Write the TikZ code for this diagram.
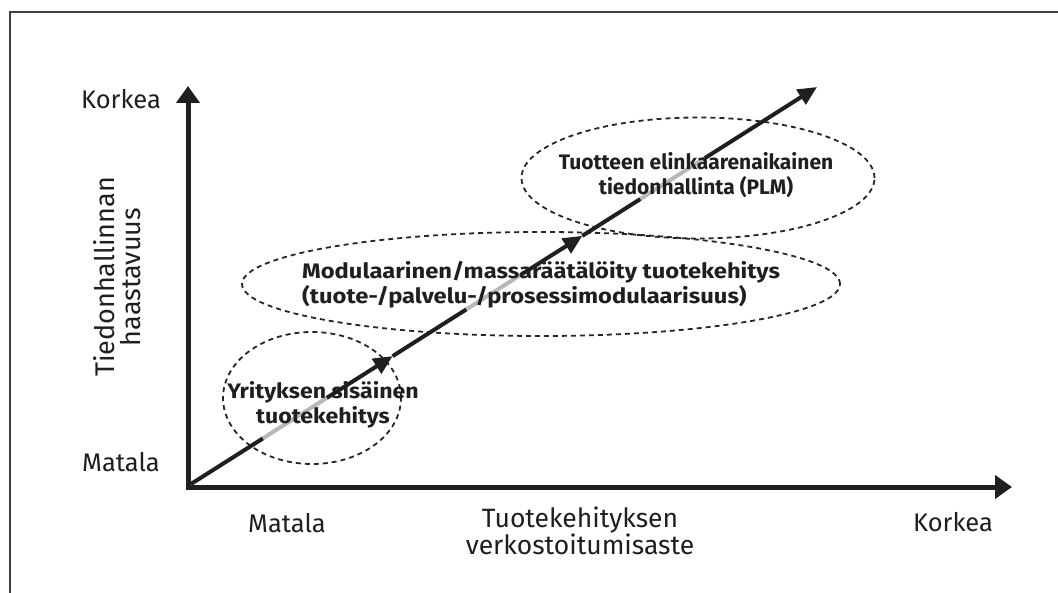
\documentclass[tikz,border=0pt]{standalone}
\usepackage{fontspec}
\setmainfont{Fira Sans}
\usetikzlibrary{arrows.meta,shapes.geometric,calc}

\begin{document}
\begin{tikzpicture}[x=1pt,y=-1pt,
  ink/.style={black!88},
  frame/.style={draw=black!75, line width=1.5pt},
  axis/.style={ink, line width=5pt, line join=miter,
    {Triangle[length=17pt,width=23pt]}-{Triangle[length=17pt,width=23pt]}},
  trend/.style={ink, line width=4pt},
  trendtip/.style={trend, -{Triangle[length=19pt,width=17pt]}},
  faded/.style={draw=black!28, line width=4pt},
  zone/.style={ellipse, draw=black!85, dash pattern=on 5pt off 4pt,
    line width=1.8pt, inner sep=0pt},
  lbl/.style={ink, font=\fontsize{25.5}{25.5}\selectfont, inner sep=0pt},
  axtitle/.style={ink, font=\fontsize{26.5}{26.5}\selectfont, inner sep=0pt, align=center},
  zonetext/.style={ink, font=\bfseries\fontsize{21}{25}\selectfont, inner sep=0pt}
]
\useasboundingbox (0,0) rectangle (1058,593);
\fill[white] (0,0) rectangle (1058,593);

% page frame (left and top edges)
\coordinate (fb) at (10,593);
\coordinate (fc) at (10,12);
\coordinate (fr) at (1058,12);
\draw[frame] (fb) -- (fc) -- (fr);

% axes
\coordinate (O) at (188,487);
\coordinate (ytop) at (188,86);
\coordinate (xend) at (1012,487);
\draw[axis] (ytop) -- (O) -- (xend);

% dashed zones
\node[zone, minimum width=178pt, minimum height=132pt] (z1) at (312,398) {};
\node[zone, minimum width=598pt, minimum height=104pt] (z2) at (541,284) {};
\node[zone, minimum width=353pt, minimum height=121pt] (z3) at (698,178) {};

% rising trend line
\coordinate (s) at (191,484);
\coordinate (e) at (817,87);
\coordinate (g1a) at ($(s)!0.115!(e)$);
\coordinate (g1b) at ($(s)!0.217!(e)$);
\coordinate (p1)  at ($(s)!0.322!(e)$);
\coordinate (g2a) at ($(s)!0.44!(e)$);
\coordinate (g2b) at ($(s)!0.53!(e)$);
\coordinate (p2)  at ($(s)!0.625!(e)$);
\coordinate (g3a) at ($(s)!0.718!(e)$);
\coordinate (g3b) at ($(s)!0.821!(e)$);
\draw[trend] (s) -- (g1a);
\draw[faded] (g1a) -- (g1b);
\draw[trendtip] (g1b) -- (p1);
\draw[trend] (p1) -- (g2a);
\draw[faded] (g2a) -- (g2b);
\draw[trendtip] (g2b) -- (p2);
\draw[trend] (p2) -- (g3a);
\draw[faded] (g3a) -- (g3b);
\draw[trendtip] (g3b) -- (e);

% zone texts
\node[zonetext, align=center, xscale=1.1] (t1) at (323,405) {Yrityksen sisäinen\\tuotekehitys};
\node[zonetext, align=left, anchor=west, xscale=1.13] (t2) at (302,285)
  {Modulaarinen/massaräätälöity tuotekehitys\\(tuote-/palvelu-/prosessimodulaarisuus)};
\node[zonetext, align=center] (t3) at (696,175) {Tuotteen elinkaarenaikainen\\tiedonhallinta (PLM)};

% axis labels
\node[lbl] (yhi) at (121,99) {Korkea};
\node[lbl] (ylo) at (121,462) {Matala};
\node[lbl] (xlo) at (287,523) {Matala};
\node[lbl] (xhi) at (953,522) {Korkea};
\node[axtitle] (xtitle) at (580,531) {Tuotekehityksen\\verkostoitumisaste};
\node[axtitle, rotate=90, font=\fontsize{27}{26}\selectfont] (ytitle) at (117,277) {Tiedonhallinnan\\haastavuus};
\end{tikzpicture}
\end{document}
